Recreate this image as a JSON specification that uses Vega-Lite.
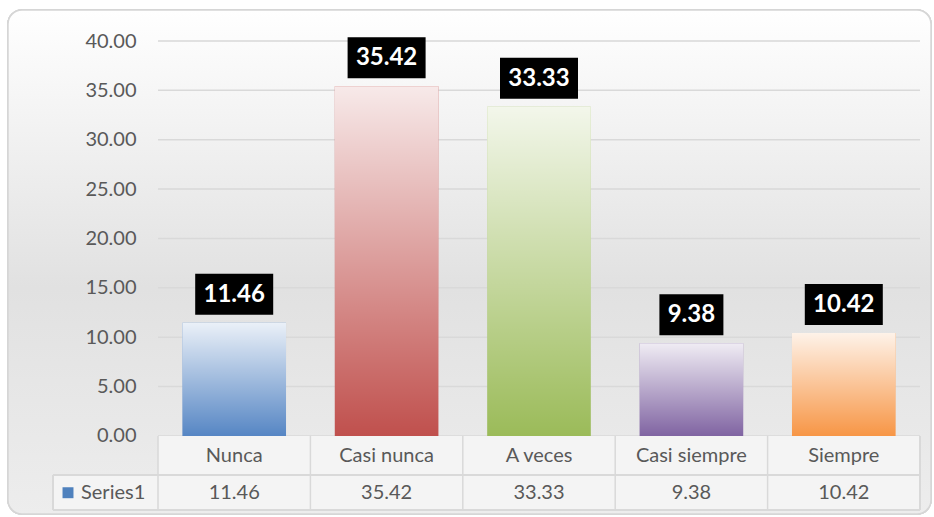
{
  "$schema": "https://vega.github.io/schema/vega-lite/v6.json",
  "width": 762,
  "height": 469,
  "autosize": {"type": "none"},
  "padding": {"left": 158, "top": 41, "right": 14, "bottom": 7},
  "background": "#ffffff",
  "config": {"view": {"stroke": null}, "font": "Lato"},
  "datasets": {
    "grid": [{"g": 0}, {"g": 5}, {"g": 10}, {"g": 15}, {"g": 20}, {"g": 25}, {"g": 30}, {"g": 35}, {"g": 40}]
  },
  "data": {
    "values": [
      {"cat": "Nunca", "v": 11.46},
      {"cat": "Casi nunca", "v": 35.42},
      {"cat": "A veces", "v": 33.33},
      {"cat": "Casi siempre", "v": 9.38},
      {"cat": "Siempre", "v": 10.42}
    ]
  },
  "transform": [{"calculate": "length(format(datum.v, '.2f'))", "as": "n"}],
  "encoding": {
    "x": {
      "field": "cat",
      "type": "nominal",
      "sort": null,
      "scale": {"domain": ["Nunca", "Casi nunca", "A veces", "Casi siempre", "Siempre"], "paddingInner": 0, "paddingOuter": 0},
      "axis": null
    }
  },
  "layer": [
    {
      "mark": {"type": "rect", "cornerRadius": 14, "stroke": "#d6d6d6", "strokeWidth": 1.5, "xOffset": -150, "x2Offset": 11, "yOffset": -31, "y2Offset": 4,
        "fill": {"gradient": "linear", "x1": 0, "y1": 0, "x2": 0, "y2": 1, "stops": [{"offset": 0, "color": "#ffffff"}, {"offset": 0.55, "color": "#e1e1e1"}, {"offset": 1, "color": "#ededed"}]}},
      "encoding": {
        "x": {"datum": "Nunca", "type": "nominal", "bandPosition": 0},
        "x2": {"datum": "Siempre", "bandPosition": 1},
        "y": {
          "datum": 40, "type": "quantitative",
          "scale": {"domain": [-7.5, 40], "nice": false, "zero": false},
          "axis": {
            "values": [0, 5, 10, 15, 20, 25, 30, 35, 40],
            "format": ".2f", "zindex": 1,
            "labelFont": "Lato", "labelFontSize": 20, "labelColor": "#595959",
            "labelPadding": 22, "domain": false, "ticks": false,
            "grid": false, "title": null
          }
        },
        "y2": {"datum": -7.5}
      }
    },
    {
      "data": {"name": "grid"},
      "mark": {"type": "rule", "color": "#d9d9d9", "strokeWidth": 1.5},
      "encoding": {
        "x": {"datum": "Nunca", "type": "nominal", "bandPosition": 0},
        "x2": {"datum": "Siempre", "bandPosition": 1},
        "y": {"field": "g", "type": "quantitative"}
      }
    },
    {
      "mark": {"type": "rect", "fill": "#f4f4f4", "xOffset": -105},
      "encoding": {
        "x": {"datum": "Nunca", "type": "nominal", "bandPosition": 0},
        "x2": {"datum": "Nunca", "bandPosition": 0},
        "y": {"datum": -3.95, "type": "quantitative"},
        "y2": {"datum": -7.5}
      }
    },
    {
      "mark": {"type": "bar", "fill": "#f4f4f4", "width": {"band": 1}},
      "encoding": {
        "y": {"datum": 0, "type": "quantitative"},
        "y2": {"datum": -7.5}
      }
    },
    {
      "mark": {"type": "bar", "width": {"band": 0.68}},
      "encoding": {
        "y": {"field": "v", "type": "quantitative"},
        "y2": {"datum": 0},
        "color": {
          "field": "cat", "type": "nominal", "legend": null,
          "scale": {"domain": ["Nunca", "Casi nunca", "A veces", "Casi siempre", "Siempre"], "range": ["#5686c4", "#c0504d", "#9bbb59", "#8064a2", "#f79646"]}
        }
      }
    },
    {
      "mark": {"type": "bar", "width": {"band": 0.68},
        "fill": {"gradient": "linear", "x1": 0, "y1": 0, "x2": 0, "y2": 1, "stops": [{"offset": 0, "color": "rgba(255,255,255,0.88)"}, {"offset": 1, "color": "rgba(255,255,255,0)"}]}},
      "encoding": {
        "y": {"field": "v", "type": "quantitative"},
        "y2": {"datum": 0}
      }
    },
    {
      "mark": {"type": "bar", "fill": "#000000", "yOffset": -49, "y2Offset": -8},
      "encoding": {
        "y": {"field": "v", "type": "quantitative"},
        "y2": {"field": "v"},
        "size": {"field": "n", "type": "quantitative", "legend": null, "scale": {"domain": [4, 5], "range": [64, 78]}}
      }
    },
    {
      "mark": {"type": "text", "color": "#ffffff", "font": "Lato", "fontWeight": "bold", "fontSize": 24, "baseline": "middle", "yOffset": -28},
      "encoding": {
        "y": {"field": "v", "type": "quantitative"},
        "text": {"field": "v", "type": "quantitative", "format": ".2f"}
      }
    },
    {
      "mark": {"type": "text", "color": "#595959", "font": "Lato", "fontSize": 20, "fontWeight": "normal", "baseline": "middle"},
      "encoding": {
        "y": {"datum": -2.0, "type": "quantitative"},
        "text": {"field": "cat"}
      }
    },
    {
      "mark": {"type": "text", "color": "#595959", "font": "Lato", "fontSize": 20, "fontWeight": "normal", "baseline": "middle"},
      "encoding": {
        "y": {"datum": -5.75, "type": "quantitative"},
        "text": {"field": "v", "type": "quantitative", "format": ".2f"}
      }
    },
    {
      "data": {"values": [{"s": "Series1"}]},
      "mark": {"type": "text", "color": "#595959", "font": "Lato", "fontSize": 20, "fontWeight": "normal", "baseline": "middle", "align": "left", "xOffset": -77},
      "encoding": {
        "x": {"datum": "Nunca", "type": "nominal", "bandPosition": 0},
        "y": {"datum": -5.75, "type": "quantitative"},
        "text": {"field": "s"}
      }
    },
    {
      "data": {"values": [{"s": "Series1"}]},
      "mark": {"type": "square", "color": "#4f81bd", "opacity": 1, "size": 120, "xOffset": -90},
      "encoding": {
        "x": {"datum": "Nunca", "type": "nominal", "bandPosition": 0},
        "y": {"datum": -5.75, "type": "quantitative"}
      }
    },
    {
      "mark": {"type": "rule", "color": "#d9d9d9", "strokeWidth": 1.5, "xOffset": -105},
      "encoding": {
        "x": {"datum": "Nunca", "type": "nominal", "bandPosition": 0},
        "x2": {"datum": "Siempre", "bandPosition": 1},
        "y": {"datum": -3.95, "type": "quantitative"}
      }
    },
    {
      "mark": {"type": "rule", "color": "#d9d9d9", "strokeWidth": 1.5, "xOffset": -105},
      "encoding": {
        "x": {"datum": "Nunca", "type": "nominal", "bandPosition": 0},
        "x2": {"datum": "Siempre", "bandPosition": 1},
        "y": {"datum": -7.5, "type": "quantitative"}
      }
    },
    {
      "mark": {"type": "rule", "color": "#d9d9d9", "strokeWidth": 1.5},
      "encoding": {
        "x": {"field": "cat", "type": "nominal", "bandPosition": 0},
        "y": {"datum": 0, "type": "quantitative"},
        "y2": {"datum": -7.5}
      }
    },
    {
      "mark": {"type": "rule", "color": "#d9d9d9", "strokeWidth": 1.5},
      "encoding": {
        "x": {"datum": "Siempre", "type": "nominal", "bandPosition": 1},
        "y": {"datum": 0, "type": "quantitative"},
        "y2": {"datum": -7.5}
      }
    },
    {
      "mark": {"type": "rule", "color": "#d9d9d9", "strokeWidth": 1.5, "xOffset": -105},
      "encoding": {
        "x": {"datum": "Nunca", "type": "nominal", "bandPosition": 0},
        "y": {"datum": -3.95, "type": "quantitative"},
        "y2": {"datum": -7.5}
      }
    }
  ]
}
